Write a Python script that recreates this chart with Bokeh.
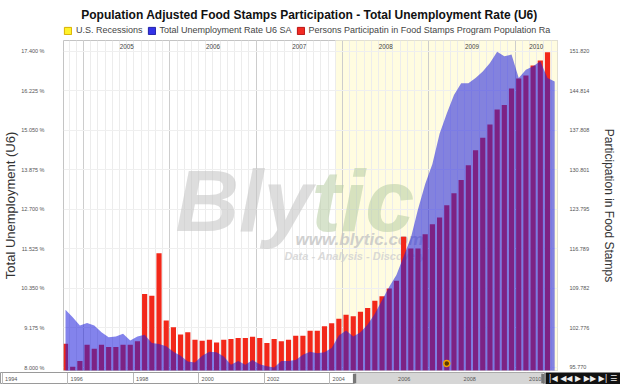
import numpy as np
import pandas as pd
from bokeh.plotting import figure
from bokeh.models import Range1d, LinearAxis, FixedTicker, Legend, LegendItem, Label
from bokeh.layouts import column, row
from bokeh.embed import file_html
from bokeh.resources import INLINE
from bokeh.core.properties import value

# ---------------- data ----------------
first_month = "2004-10"
u6_rate = [9.72, 9.49, 9.25, 9.32, 9.25, 9.05, 8.90, 8.92, 9.00, 8.80,
           8.92, 8.97, 8.73, 8.70, 8.63, 8.47, 8.35, 8.18, 8.15, 8.35,
           8.47, 8.45, 8.33, 8.08, 8.19, 8.08, 8.22, 8.10, 8.04, 8.00,
           8.19, 8.19, 8.22, 8.38, 8.47, 8.42, 8.45, 8.58, 8.95, 9.10,
           8.92, 9.05, 9.28, 9.60, 10.00, 10.40, 10.75, 11.30, 11.85, 12.70,
           13.45, 14.05, 14.95, 15.55, 16.10, 16.45, 16.45, 16.60, 16.80, 17.05,
           17.38, 17.25, 17.30, 16.60, 16.85, 16.95, 17.10, 16.60, 16.50]
food_stamps = [99.96, 95.90, 96.90, 99.80, 99.10, 99.80, 99.40, 99.40, 99.80, 99.80,
               100.40, 108.80, 108.50, 116.00, 104.10, 102.90, 101.60, 102.00, 100.70, 100.50,
               100.70, 100.20, 100.70, 100.80, 101.00, 101.00, 101.20, 101.00, 100.10, 100.80,
               100.40, 100.70, 101.40, 101.40, 102.30, 102.30, 103.10, 103.60, 104.40, 105.10,
               104.84, 105.67, 106.32, 107.62, 108.38, 109.79, 111.15, 118.93, 116.87, 116.87,
               119.40, 121.17, 122.35, 124.53, 126.65, 129.01, 131.60, 134.26, 136.49, 138.85,
               141.50, 142.27, 145.22, 146.98, 147.52, 149.28, 150.17, 151.64]
recession_start = "2007-12"
event_months = ["2009-03"]
event_levels = [8.12]
left_ticks = [8.0, 9.175, 10.35, 11.525, 12.7, 13.875, 15.05, 16.225, 17.4]
left_tick_labels = ["8.000 %", "9.175 %", "10.350 %", "11.525 %", "12.700 %",
                    "13.875 %", "15.050 %", "16.225 %", "17.400 %"]
right_ticks = [95.77, 102.776, 109.782, 116.789, 123.795, 130.801, 137.808, 144.814, 151.82]
right_tick_labels = ["95.770", "102.776", "109.782", "116.789", "123.795",
                     "130.801", "137.808", "144.814", "151.820"]
nav_years = [1994, 1996, 1998, 2000, 2002, 2004, 2006, 2008, 2010]
title_text = "Population Adjusted Food Stamps Participation - Total Unemployment Rate (U6)"
legend_labels = ["U.S. Recessions", "Total Unemployment Rate U6 SA",
                 "Persons Participatin in Food Stamps Program Population Ra"]

# ---------------- derived ----------------
months = pd.date_range(first_month, periods=len(u6_rate), freq="MS")
idx = np.arange(len(months))
bar_idx = idx[:len(food_stamps)]
month_key = [m.strftime("%Y-%m") for m in months]
rec_i = month_key.index(recession_start)
event_idx = [month_key.index(m) for m in event_months]

X0, X1 = -0.278, 68.39
year_bounds = [i - 0.5 for i, m in enumerate(months) if m.month == 1]
month_bounds = [i - 0.5 for i in idx]
year_x, year_t = [], []
for yr in sorted(set(m.year for m in months)):
    ii = [i for i, m in enumerate(months) if m.year == yr]
    lo, hi = max(ii[0] - 0.5, X0), min(ii[-1] + 0.5, X1)
    if hi - lo >= 4:
        year_x.append((lo + hi) / 2)
        year_t.append(str(yr))

FONT = "Liberation Sans"
W = 620
BL, BR = 63, 63   # side borders around the plotting frame

# ---------------- header: title + legend ----------------
head = figure(width=W, height=40, x_range=Range1d(0, 1), y_range=Range1d(0, 1),
              output_backend="svg", toolbar_location=None, x_axis_location=None,
              y_axis_location=None, title=None, min_border_left=BL, min_border_right=BR,
              min_border_top=0, min_border_bottom=0)
head.outline_line_color = None
head.grid.visible = False
head.add_layout(Label(x=(W - BL - BR) / 2 - 1, y=26, x_units="screen", y_units="screen",
                      text=title_text, text_font=FONT, text_font_size="12px",
                      text_font_style="bold", text_color="#111111", text_align="center",
                      text_baseline="middle"))
# legend swatches (kept outside the header's visible range; only their legend glyphs show)
sw = dict(left=[2], right=[3], top=[2], bottom=[3])
r1 = head.quad(**sw, fill_color="#FFF22A", line_color="#D8B000")
r2 = head.quad(**sw, fill_color="#3333E8", line_color="#2222A8")
r3 = head.quad(**sw, fill_color="#F22A22", line_color="#B81414")
legend = Legend(items=[LegendItem(label=t, renderers=[r]) for t, r in zip(legend_labels, [r1, r2, r3])],
                orientation="horizontal", location=(0, 5), margin=0, padding=0, spacing=4,
                label_standoff=4, glyph_width=9, glyph_height=9, label_height=9,
                label_text_font=FONT, label_text_font_size="9px", label_text_color="#444444",
                border_line_color=None, background_fill_alpha=0)
head.add_layout(legend, "center")

# ---------------- main chart ----------------
p = figure(width=W, height=332, x_range=Range1d(X0, X1), y_range=Range1d(7.911, 17.718),
           output_backend="svg", toolbar_location=None, x_axis_location=None, title=None,
           min_border_left=BL, min_border_right=BR, min_border_top=0, min_border_bottom=2)
p.extra_y_ranges = {"fs": Range1d(95.238, 153.716)}
p.background_fill_color = "white"
p.border_fill_color = "white"
p.outline_line_color = "#c4c4c4"

p.xgrid.ticker = FixedTicker(ticks=year_bounds, minor_ticks=month_bounds)
p.xgrid.grid_line_color = "#cdcdcd"
p.xgrid.minor_grid_line_color = "#ececec"
p.ygrid.ticker = FixedTicker(ticks=left_ticks)
p.ygrid.grid_line_color = "#efefef"

ya = p.yaxis[0]
ya.ticker = FixedTicker(ticks=left_ticks)
ya.major_label_overrides = dict(zip(left_ticks, left_tick_labels))
ya.axis_label = "Total Unemployment (U6)"
ra = LinearAxis(y_range_name="fs", ticker=FixedTicker(ticks=right_ticks),
                major_label_overrides=dict(zip(right_ticks, right_tick_labels)),
                axis_label="Participation in Food Stamps")
p.add_layout(ra, "right")
for ax, st, fs, ls in [(ya, 13, "13px", 0), (ra, 6, "12px", 10)]:
    ax.axis_line_color = None
    ax.major_tick_line_color = None
    ax.minor_tick_line_color = None
    ax.major_label_standoff = st
    ax.major_label_text_font = FONT
    ax.major_label_text_font_size = "5.5px"
    ax.major_label_text_color = "#555555"
    ax.axis_label_text_font = FONT
    ax.axis_label_text_font_size = fs
    ax.axis_label_text_font_style = "normal"
    ax.axis_label_text_color = "#333333"
    ax.axis_label_standoff = ls

# recession band
p.quad(left=[rec_i - 0.5], right=[len(idx) + 1], bottom=[0], top=[100],
       fill_color="#FFFCE0", line_color=None, level="image")

# watermark
wm = dict(x_units="screen", y_units="screen", text_font=FONT, level="underlay",
          text_baseline="alphabetic")
p.add_layout(Label(x=112, y=170, text="Bly", text_font_size="88px", text_font_style="bold italic",
                   text_color="#c6c6c6", text_alpha=0.6, **wm))
p.add_layout(Label(x=248, y=170, text="tic", text_font_size="88px", text_font_style="bold italic",
                   text_color="#b6cca2", text_alpha=0.55, **wm))
p.add_layout(Label(x=232, y=131, text="www.blytic.com", text_font_size="17px",
                   text_font_style="bold italic", text_color="#c4c4c4", text_alpha=0.8, **wm))
p.add_layout(Label(x=221, y=115, text="Data - Analysis - Discovery", text_font_size="11px",
                   text_font_style="bold italic", text_color="#d0d0d0", text_alpha=0.8, **wm))

# bars and area
p.vbar(x=bar_idx, top=food_stamps, bottom=0, width=0.72, y_range_name="fs",
       fill_color="#F2281A", line_color=None)
p.varea(x=idx, y1=0, y2=u6_rate, fill_color="#1E1EDC", fill_alpha=0.55)

# year labels
p.text(x=year_x, y=[p.y_range.end] * len(year_x), text=year_t, text_font=value(FONT),
       text_font_size="6.3px", text_align="center", text_baseline="top", y_offset=3,
       text_color="#444444")

# event marker
p.scatter(x=event_idx, y=event_levels, size=6, fill_color="#5a3a00",
          line_color="#f0a000", line_width=1.5)

# ---------------- navigator ----------------
sel_start = months[0].year + (months[0].month - 1) / 12
sel_end = months[-1].year + months[-1].month / 12
nav = figure(width=545, height=12, x_range=Range1d(1993.94, 2010.58), y_range=Range1d(0, 1),
             output_backend="svg", toolbar_location=None, x_axis_location=None,
             y_axis_location=None, min_border=0, title=None)
nav.outline_line_color = "#9a9a9a"
nav.xgrid.ticker = FixedTicker(ticks=nav_years)
nav.xgrid.grid_line_color = "#b8b8b8"
nav.ygrid.visible = False
nav.quad(left=[sel_start], right=[sel_end], bottom=[0], top=[1], fill_color="#d6d6d6", line_color=None)
nav.quad(left=[sel_start - 0.05, sel_end - 0.05], right=[sel_start + 0.05, sel_end + 0.05],
         bottom=[0.1, 0.1], top=[0.9, 0.9], fill_color="#777777", line_color=None)
nav.text(x=[y + 0.08 for y in nav_years], y=[0.5] * len(nav_years), text=[str(y) for y in nav_years],
         text_font=value(FONT), text_font_size="5.5px", text_baseline="middle", text_align="left",
         text_color="#555555")

btn = figure(width=75, height=12, x_range=Range1d(0, 1), y_range=Range1d(0, 1),
             output_backend="svg", toolbar_location=None, x_axis_location=None,
             y_axis_location=None, min_border=0, title=None)
btn.background_fill_color = "#111111"
btn.border_fill_color = "#111111"
btn.outline_line_color = None
btn.grid.visible = False
btn.text(x=[0.5], y=[0.5], text=["|◀ ◀◀ ▶ ▶▶ ▶| ☰"], text_font=value("DejaVu Sans"),
         text_font_size="8px", text_align="center", text_baseline="middle", text_color="#eeeeee")

layout = column(head, p, row(nav, btn, spacing=0), spacing=0)
open("out.html", "w").write(file_html(layout, INLINE))
